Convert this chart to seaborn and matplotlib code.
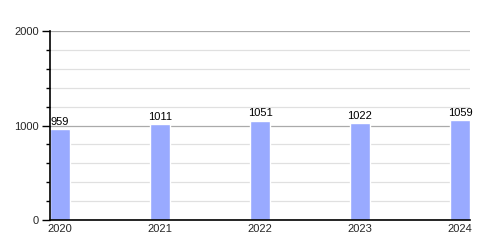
import matplotlib
matplotlib.use("Agg")
import matplotlib.pyplot as plt
import seaborn as sns
import pandas as pd
from matplotlib.ticker import MultipleLocator

years = ["2020", "2021", "2022", "2023", "2024"]
values = [959, 1011, 1051, 1022, 1059]

sns.set_style("white")
plt.rcParams['font.family'] = ['Liberation Sans', 'DejaVu Sans']

df = pd.DataFrame({"year": years, "value": values})

fig = plt.figure(figsize=(5, 2.5), dpi=100)
ax = fig.add_axes([0.1, 0.12, 0.84, 0.756])

sns.barplot(data=df, x="year", y="value", color="#99aaff", saturation=1,
            width=0.2, ax=ax, zorder=3)

ax.set_xlim(-0.1, 4.1)
ax.set_ylim(0, 2000)
ax.yaxis.set_major_locator(MultipleLocator(1000))
ax.yaxis.set_minor_locator(MultipleLocator(200))
ax.grid(which="major", axis="y", color="#aaaaaa", linewidth=0.9, zorder=1)
ax.grid(which="minor", axis="y", color="#e0e0e0", linewidth=0.9, zorder=1)
ax.set_axisbelow(True)

for s in ["top", "right"]:
    ax.spines[s].set_visible(False)
for s in ["left", "bottom"]:
    ax.spines[s].set_color("black")
    ax.spines[s].set_linewidth(1.2)
    ax.spines[s].set_zorder(4)

ax.tick_params(axis="y", which="major", length=6, width=1, color="black",
               labelsize=8, pad=2, left=True)
ax.tick_params(axis="y", which="minor", length=3, width=1, color="black", left=True)
ax.tick_params(axis="x", length=0, labelsize=8, pad=3)
ax.set_xlabel("")
ax.set_ylabel("")

for i, v in enumerate(values):
    ax.text(i, v + 25, str(v), ha="center", va="bottom", fontsize=8, color="black")

fig.savefig("out.png", dpi=100)
